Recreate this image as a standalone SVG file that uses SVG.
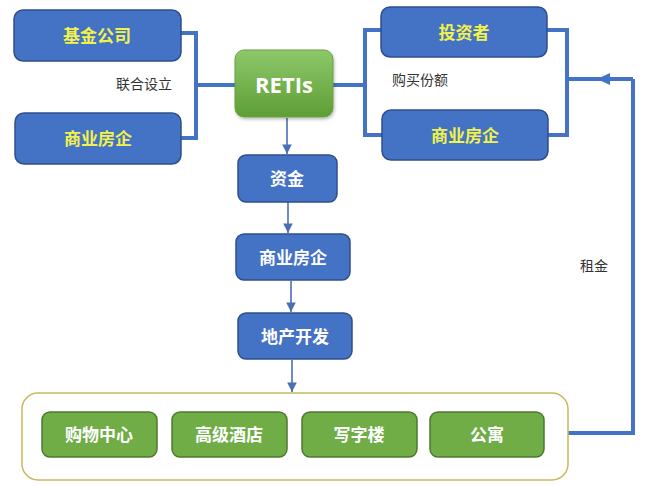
<svg xmlns="http://www.w3.org/2000/svg" width="650" height="486" viewBox="0 0 650 486">
<defs>
<linearGradient id="g" x1="0" y1="0" x2="0" y2="1">
<stop offset="0" stop-color="#8DC86A"/>
<stop offset="1" stop-color="#5E9E36"/>
</linearGradient>
<marker id="ah2" viewBox="0 0 10 10" refX="10" refY="5" markerWidth="6" markerHeight="6" orient="auto" markerUnits="strokeWidth">
<path d="M0,0 L10,5 L0,10 z" fill="#4A6FB5"/>
</marker>
<filter id="sh" x="-10%" y="-10%" width="130%" height="140%">
<feDropShadow dx="1" dy="2" stdDeviation="1.5" flood-color="#000" flood-opacity="0.25"/>
</filter>
</defs>
<style>
.blue{fill:#4472C4;stroke:#2F4F8A;stroke-width:1.5}
.green{fill:#70AD47;stroke:#4E7A30;stroke-width:1.5}
.yt{font-family:"Noto Sans CJK SC","Liberation Sans",sans-serif;font-size:17px;font-weight:bold;fill:#F2F24A;text-anchor:middle;dominant-baseline:central}
.wt{font-family:"Noto Sans CJK SC","Liberation Sans",sans-serif;font-size:17px;font-weight:bold;fill:#FFFFFF;text-anchor:middle;dominant-baseline:central}
.lab{font-family:"Noto Sans CJK SC","Liberation Sans",sans-serif;font-size:14px;fill:#333;text-anchor:middle;dominant-baseline:central}
.thick{fill:none;stroke:#4472C4;stroke-width:4}
.thin{fill:none;stroke:#4A6FB5;stroke-width:1.6}
</style>
<rect width="650" height="486" fill="#FFFFFF"/>

<g id="connectors">
<polyline class="thick" points="181,33 196,33 196,138 181,138"/>
<line class="thick" x1="196" y1="85" x2="235" y2="85"/>
<line class="thick" x1="333" y1="85" x2="365" y2="85"/>
<polyline class="thick" points="381,30 365,30 365,135 382,135"/>
<polyline class="thick" points="547,30 567,30 567,135 548,135"/>
<line class="thick" x1="567" y1="79" x2="633" y2="79"/>
<polyline class="thick" points="568,433 633,433 633,79"/>
<path d="M597,79 L610,73 L610,85 z" fill="#4472C4"/>
<line class="thin" x1="287" y1="118" x2="287" y2="154" marker-end="url(#ah2)"/>
<line class="thin" x1="288" y1="202" x2="288" y2="233" marker-end="url(#ah2)"/>
<line class="thin" x1="291" y1="281" x2="291" y2="312" marker-end="url(#ah2)"/>
<line class="thin" x1="292" y1="360" x2="292" y2="392" marker-end="url(#ah2)"/>
</g>

<g id="label-lianhe"><text class="lab" x="144" y="83">联合设立</text></g>
<g id="label-goumai"><text class="lab" x="420" y="79">购买份额</text></g>
<g id="label-zujin"><text class="lab" x="594" y="265">租金</text></g>

<g id="node-jijin">
<rect class="blue" x="14" y="10" width="167" height="51" rx="9"/>
<text class="yt" x="97" y="34">基金公司</text>
</g>
<g id="node-fangqi-left">
<rect class="blue" x="15" y="113" width="166" height="51" rx="9"/>
<text class="yt" x="98" y="137">商业房企</text>
</g>
<g id="node-retis">
<rect x="235" y="50" width="98" height="67" rx="9" fill="url(#g)" stroke="#6AA043" stroke-width="1" filter="url(#sh)"/>
<text x="284" y="84" font-family="'Open Sans','Liberation Sans',sans-serif" font-size="22" font-weight="bold" fill="#FFFFFF" text-anchor="middle" dominant-baseline="central">RETIs</text>
</g>
<g id="node-touzizhe">
<rect class="blue" x="381" y="7" width="166" height="50" rx="9"/>
<text class="yt" x="464" y="31">投资者</text>
</g>
<g id="node-fangqi-right">
<rect class="blue" x="382" y="110" width="166" height="50" rx="9"/>
<text class="yt" x="465" y="134">商业房企</text>
</g>
<g id="node-zijin">
<rect class="blue" x="238" y="155" width="99" height="47" rx="8"/>
<text class="wt" x="287" y="177">资金</text>
</g>
<g id="node-fangqi-mid">
<rect class="blue" x="236" y="234" width="114" height="46" rx="8"/>
<text class="wt" x="293" y="256">商业房企</text>
</g>
<g id="node-dichan">
<rect class="blue" x="238" y="313" width="114" height="46" rx="8"/>
<text class="wt" x="295" y="335">地产开发</text>
</g>

<g id="container">
<rect x="22" y="393" width="546" height="87" rx="16" fill="#FFFFFF" stroke="#C9B85A" stroke-width="1.5"/>
</g>
<g id="node-gouwu">
<rect class="green" x="42" y="412" width="115" height="45" rx="8"/>
<text class="wt" x="99" y="433">购物中心</text>
</g>
<g id="node-jiudian">
<rect class="green" x="172" y="412" width="115" height="45" rx="8"/>
<text class="wt" x="229" y="433">高级酒店</text>
</g>
<g id="node-xiezilou">
<rect class="green" x="302" y="412" width="115" height="45" rx="8"/>
<text class="wt" x="359" y="433">写字楼</text>
</g>
<g id="node-gongyu">
<rect class="green" x="430" y="412" width="114" height="45" rx="8"/>
<text class="wt" x="487" y="433">公寓</text>
</g>
</svg>
